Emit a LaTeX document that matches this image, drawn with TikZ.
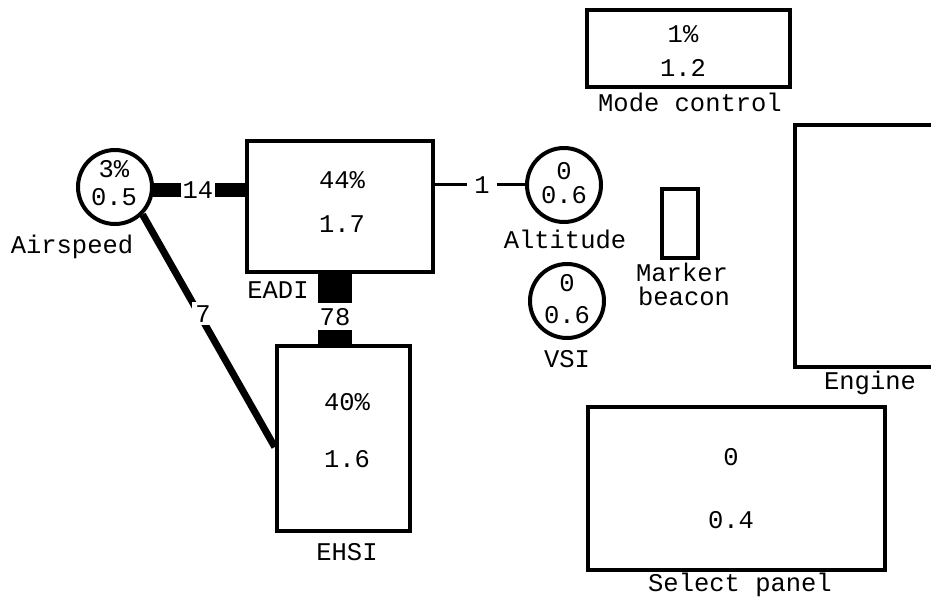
\documentclass[tikz,border=0pt]{standalone}
\usepackage{fontspec}
\setmainfont{Liberation Mono}
\usetikzlibrary{calc}
\pgfdeclarelayer{bg}
\pgfsetlayers{bg,main}
\begin{document}
\begin{tikzpicture}[x=1pt,y=-1pt,
  txt/.style={font=\fontsize{25.5}{27}\selectfont, inner sep=0pt, anchor=base},
  box/.style={draw, rectangle, line width=4.5pt, fill=white, inner sep=0pt},
  disc/.style={draw, circle, line width=4pt, fill=white, inner sep=0pt, minimum size=74pt},
  barh/.style={line width=14pt},
  barv/.style={line width=34pt},
  linkseven/.style={line width=7pt},
  linkone/.style={line width=3pt}
]
\useasboundingbox (0,0) rectangle (931,608);

% shapes
\node[disc] (asp) at (115,187) {};
\node[disc] (alt) at (564,185) {};
\node[disc] (vsi) at (567,301) {};
\node[box, minimum width=186pt, minimum height=131pt] (eadi) at (340,206.5) {};
\node[box, minimum width=133pt, minimum height=185pt] (ehsi) at (343.5,438.5) {};
\node[box, minimum width=203pt, minimum height=77pt] (mode) at (688.5,48.5) {};
\node[box, minimum width=36pt, minimum height=69pt] (mark) at (680,223.5) {};
\node[box, minimum width=297pt, minimum height=163pt] (sel) at (736.5,488.5) {};
\node[rectangle, draw=none, minimum width=140pt, minimum height=242pt, inner sep=0pt] (eng) at (865,246) {};
\draw[line width=4.5pt] (eng.north east) -- (eng.north west) -- (eng.south west) -- (eng.south east);

% texts
\node[txt] (asp1) at (114,177) {3\%};
\node[txt] (asp2) at (114,205) {0.5};
\node[txt] (aspl) at (72,253) {Airspeed};
\node[txt] (eadi1) at (342,188) {44\%};
\node[txt] (eadi2) at (342,232) {1.7};
\node[txt] (eadil) at (278,298) {EADI};
\node[txt] (ehsi1) at (347,410) {40\%};
\node[txt] (ehsi2) at (347,467) {1.6};
\node[txt] (ehsil) at (347,560) {EHSI};
\node[txt] (alt1) at (564,179) {0};
\node[txt] (alt2) at (564,203) {0.6};
\node[txt] (altl) at (565,248) {Altitude};
\node[txt] (vsi1) at (567,291) {0};
\node[txt] (vsi2) at (567,323) {0.6};
\node[txt] (vsil) at (567,367) {VSI};
\node[txt] (markl1) at (682,281) {Marker};
\node[txt] (markl2) at (684,305) {beacon};
\node[txt] (mode1) at (683,42) {1\%};
\node[txt] (mode2) at (683,76) {1.2};
\node[txt] (model) at (690,111) {Mode control};
\node[txt] (engl) at (870,389) {Engine};
\node[txt] (sel1) at (731,465) {0};
\node[txt] (sel2) at (731,528) {0.4};
\node[txt] (sell) at (740,591) {Select panel};

% connector labels
\node[txt, inner xsep=1.5pt] (n14) at (198,198) {14};
\node[txt, inner xsep=0pt, inner ysep=5pt] (n78) at (335,325) {78};
\node[txt, inner xsep=7pt] (n1) at (482,193) {1};
\node[txt, fill=white, inner sep=3pt] (n7) at (203,322) {7};

\coordinate (e7) at ($(ehsi.north west)!0.545!(ehsi.south west)$);

\begin{pgfonlayer}{bg}
  \draw[barh] (asp.center |- n14.west) -- (n14.west);
  \draw[barh] (n14.east) -- (eadi.west |- n14.east);
  \draw[barv] (eadi.south -| n78) -- (n78.north);
  \draw[barv] (n78.south) -- (ehsi.north -| n78);
  \draw[linkone] (eadi.east |- n1.west) -- (n1.west);
  \draw[linkone] (n1.east) -- (alt.center |- n1.east);
  \draw[linkseven] (asp.-45) -- (e7);
\end{pgfonlayer}
\end{tikzpicture}
\end{document}
